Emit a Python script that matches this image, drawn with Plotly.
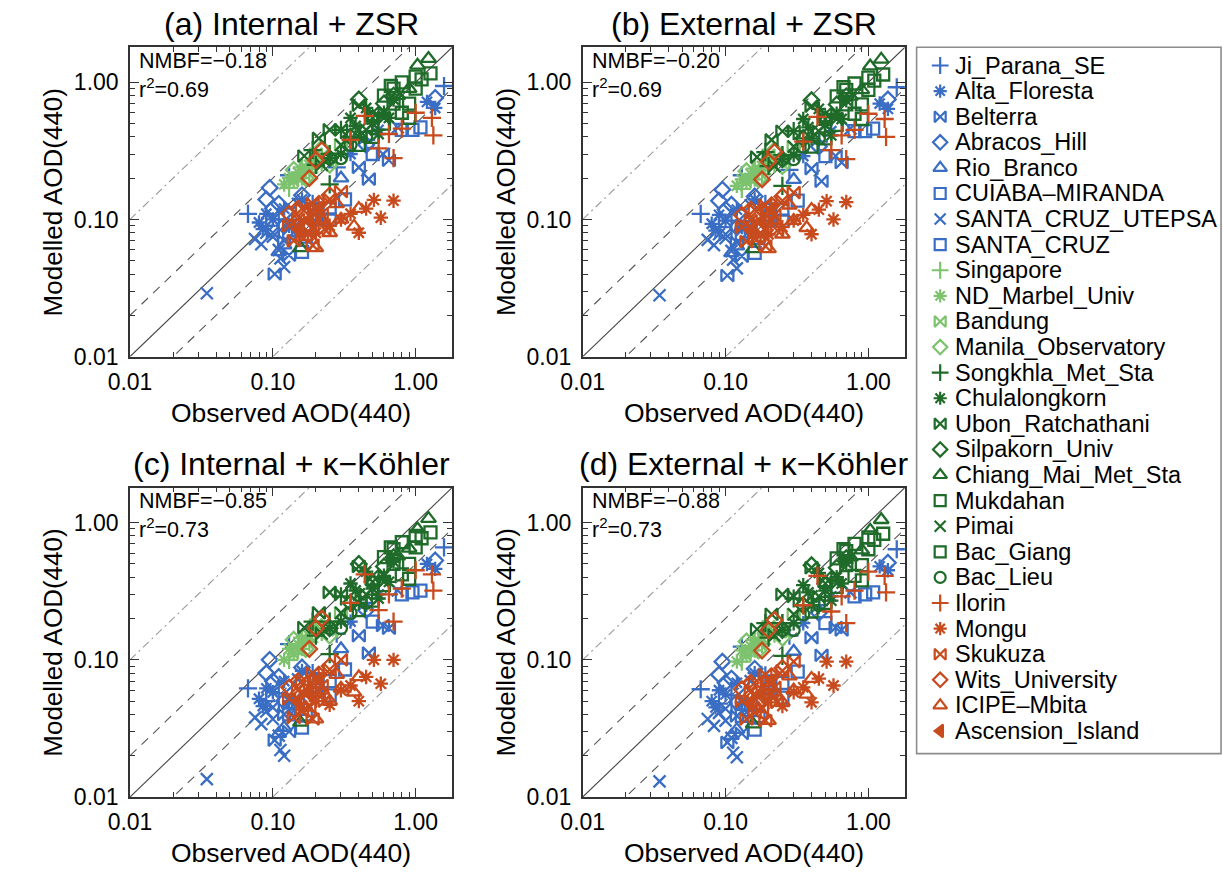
import plotly.graph_objects as go

W, H = 1223, 875

# ---------------- data ----------------
STATIONS = ["Ji_Parana_SE", "Alta_Floresta", "Belterra", "Abracos_Hill", "Rio_Branco",
            "CUIABA\u2013MIRANDA", "SANTA_CRUZ_UTEPSA", "SANTA_CRUZ", "Singapore",
            "ND_Marbel_Univ", "Bandung", "Manila_Observatory", "Songkhla_Met_Sta",
            "Chulalongkorn", "Ubon_Ratchathani", "Silpakorn_Univ", "Chiang_Mai_Met_Sta",
            "Mukdahan", "Pimai", "Bac_Giang", "Bac_Lieu", "Ilorin", "Mongu", "Skukuza",
            "Wits_University", "ICIPE\u2013Mbita", "Ascension_Island"]

OBS = [
    [0.067, 0.13, 1.58, 0.09, 0.11, 0.45, 0.28, 0.19],
    [0.10, 0.12, 0.085, 0.55, 1.37, 1.2, 0.35, 0.16, 0.09, 0.13, 0.08],
    [0.103, 0.47, 0.40, 0.59, 0.12, 0.10, 0.65, 0.13],
    [0.095, 0.10, 0.14, 1.37, 0.2, 0.12, 0.45, 0.09, 0.11, 0.16],
    [0.12, 0.15, 0.13, 0.3, 0.11],
    [0.2, 0.25, 0.8, 0.17, 0.32, 0.16],
    [0.0345, 0.075, 0.083, 0.113, 0.11, 0.75, 0.15, 0.10, 0.12, 0.09],
    [1.08, 0.95, 0.15, 0.25, 0.2, 0.13, 0.5],
    [0.15, 0.2, 0.25, 0.18, 0.13, 0.16, 0.22],
    [0.12, 0.15, 0.18, 0.16, 0.14, 0.2, 0.17, 0.13],
    [0.15, 0.2, 0.3, 0.17, 0.24],
    [0.14, 0.2, 0.25, 0.17, 0.22],
    [0.19, 0.25, 0.3, 0.25, 0.2, 0.35],
    [0.4, 0.5, 0.35, 0.6, 0.45, 0.3, 0.55, 0.7, 0.25, 0.38, 0.65],
    [0.166, 0.21, 0.25, 0.40, 0.5, 0.3, 0.6, 0.45],
    [0.4, 0.6, 0.5, 0.25, 0.7, 0.35],
    [1.23, 1.03, 0.9, 0.156, 0.75, 0.5],
    [0.8, 1.0, 0.7, 0.6, 0.9, 1.1, 0.67],
    [0.4, 0.3, 0.5, 0.22],
    [0.7, 1.0, 0.8, 0.5, 0.6, 0.9, 0.4, 1.27],
    [0.35, 0.3, 0.45],
    [0.44, 0.65, 0.8, 1.33, 1.3, 0.35, 1.0, 0.7, 0.55],
    [0.51, 0.70, 0.57, 0.3, 0.35, 0.25, 0.4, 0.2, 0.45],
    [0.15, 0.2, 0.18, 0.25, 0.13, 0.3, 0.22, 0.16, 0.14, 0.17, 0.19, 0.21, 0.16, 0.23, 0.19],
    [0.2, 0.22, 0.18, 0.15, 0.17, 0.25, 0.13, 0.21, 0.19],
    [0.2, 0.37, 0.3, 0.25, 0.4, 0.17, 0.22, 0.28],
    [0.18, 0.15, 0.21],
]

MOD_A = [
    [0.11, 0.21, 0.94, 0.09, 0.10, 0.38, 0.24, 0.13],
    [0.10, 0.12, 0.085, 0.45, 0.65, 0.72, 0.30, 0.14, 0.11, 0.09, 0.095],
    [0.04, 0.197, 0.24, 0.30, 0.07, 0.08, 0.27, 0.055],
    [0.17, 0.12, 0.10, 0.77, 0.11, 0.09, 0.35, 0.14, 0.13, 0.15],
    [0.065, 0.08, 0.09, 0.2, 0.058],
    [0.10, 0.12, 0.45, 0.075, 0.14, 0.058],
    [0.029, 0.072, 0.066, 0.052, 0.06, 0.47, 0.13, 0.075, 0.045, 0.08],
    [0.47, 0.45, 0.09, 0.10, 0.12, 0.08, 0.3],
    [0.20, 0.25, 0.30, 0.22, 0.17, 0.24, 0.26],
    [0.18, 0.22, 0.25, 0.20, 0.19, 0.28, 0.23, 0.20],
    [0.2, 0.3, 0.35, 0.24, 0.27],
    [0.23, 0.28, 0.25, 0.2, 0.33],
    [0.32, 0.3, 0.45, 0.18, 0.25, 0.4],
    [0.4, 0.5, 0.55, 0.6, 0.65, 0.3, 0.42, 0.75, 0.28, 0.48, 0.55],
    [0.29, 0.39, 0.45, 0.68, 0.6, 0.45, 0.55, 0.45],
    [0.75, 0.7, 0.55, 0.28, 0.8, 0.4],
    [1.49, 1.33, 0.9, 0.062, 0.8, 0.55],
    [1.0, 0.9, 0.7, 0.5, 0.7, 1.05, 0.94],
    [0.45, 0.35, 0.55, 0.25],
    [0.9, 1.1, 0.6, 0.4, 0.8, 0.55, 0.35, 1.16],
    [0.35, 0.28, 0.4],
    [0.57, 0.42, 0.46, 0.41, 0.55, 0.38, 0.6, 0.28, 0.33],
    [0.139, 0.137, 0.103, 0.10, 0.11, 0.09, 0.08, 0.08, 0.12],
    [0.10, 0.12, 0.08, 0.14, 0.09, 0.16, 0.11, 0.075, 0.07, 0.095, 0.13, 0.10, 0.12, 0.085, 0.065],
    [0.27, 0.32, 0.2, 0.12, 0.09, 0.15, 0.11, 0.13, 0.10],
    [0.062, 0.089, 0.10, 0.08, 0.12, 0.075, 0.10, 0.13],
    [0.10, 0.085, 0.12],
]

MOD_B = [
    [0.11, 0.21, 0.92, 0.088, 0.098, 0.37, 0.23, 0.13],
    [0.098, 0.118, 0.083, 0.44, 0.64, 0.70, 0.29, 0.14, 0.108, 0.088, 0.093],
    [0.039, 0.19, 0.235, 0.29, 0.068, 0.078, 0.26, 0.054],
    [0.165, 0.118, 0.098, 0.75, 0.108, 0.088, 0.34, 0.137, 0.128, 0.147],
    [0.064, 0.078, 0.088, 0.195, 0.057],
    [0.098, 0.118, 0.44, 0.073, 0.137, 0.057],
    [0.028, 0.071, 0.065, 0.051, 0.059, 0.46, 0.127, 0.073, 0.044, 0.078],
    [0.46, 0.44, 0.088, 0.098, 0.118, 0.078, 0.29],
    [0.196, 0.245, 0.295, 0.215, 0.167, 0.235, 0.255],
    [0.176, 0.215, 0.245, 0.196, 0.186, 0.275, 0.225, 0.196],
    [0.196, 0.295, 0.34, 0.235, 0.265],
    [0.225, 0.275, 0.245, 0.196, 0.32],
    [0.31, 0.295, 0.44, 0.176, 0.245, 0.39],
    [0.39, 0.49, 0.54, 0.59, 0.64, 0.295, 0.41, 0.74, 0.275, 0.47, 0.54],
    [0.285, 0.38, 0.44, 0.67, 0.59, 0.44, 0.54, 0.44],
    [0.74, 0.69, 0.54, 0.275, 0.79, 0.39],
    [1.47, 1.31, 0.88, 0.061, 0.79, 0.54],
    [0.98, 0.88, 0.69, 0.49, 0.69, 1.03, 0.92],
    [0.44, 0.34, 0.54, 0.245],
    [0.88, 1.08, 0.59, 0.39, 0.79, 0.54, 0.34, 1.14],
    [0.34, 0.275, 0.39],
    [0.56, 0.41, 0.45, 0.40, 0.54, 0.37, 0.59, 0.275, 0.32],
    [0.136, 0.134, 0.10, 0.098, 0.108, 0.088, 0.078, 0.078, 0.118],
    [0.098, 0.118, 0.078, 0.137, 0.088, 0.157, 0.108, 0.073, 0.069, 0.093, 0.127, 0.098, 0.118, 0.083, 0.064],
    [0.265, 0.31, 0.196, 0.118, 0.088, 0.147, 0.108, 0.127, 0.098],
    [0.061, 0.087, 0.098, 0.078, 0.118, 0.073, 0.098, 0.127],
    [0.098, 0.083, 0.118],
]

MOD_C = [
    [0.062, 0.13, 0.66, 0.05, 0.057, 0.26, 0.155, 0.08],
    [0.058, 0.07, 0.046, 0.30, 0.46, 0.50, 0.19, 0.083, 0.062, 0.05, 0.052],
    [0.026, 0.112, 0.15, 0.178, 0.04, 0.045, 0.17, 0.03],
    [0.10, 0.07, 0.058, 0.53, 0.065, 0.05, 0.23, 0.08, 0.075, 0.088],
    [0.032, 0.042, 0.047, 0.12, 0.029],
    [0.06, 0.07, 0.30, 0.04, 0.085, 0.032],
    [0.0135, 0.038, 0.034, 0.022, 0.028, 0.32, 0.072, 0.037, 0.02, 0.042],
    [0.32, 0.31, 0.048, 0.055, 0.07, 0.04, 0.19],
    [0.12, 0.155, 0.19, 0.135, 0.10, 0.145, 0.16],
    [0.10, 0.13, 0.15, 0.12, 0.11, 0.17, 0.14, 0.12],
    [0.12, 0.18, 0.22, 0.14, 0.165],
    [0.14, 0.17, 0.15, 0.12, 0.2],
    [0.19, 0.19, 0.29, 0.11, 0.15, 0.26],
    [0.26, 0.33, 0.36, 0.41, 0.44, 0.19, 0.28, 0.52, 0.17, 0.32, 0.37],
    [0.172, 0.22, 0.31, 0.48, 0.41, 0.30, 0.37, 0.30],
    [0.5, 0.48, 0.37, 0.17, 0.56, 0.26],
    [1.07, 0.9, 0.65, 0.035, 0.57, 0.37],
    [0.72, 0.66, 0.5, 0.35, 0.5, 0.77, 0.66],
    [0.3, 0.22, 0.37, 0.155],
    [0.64, 0.8, 0.42, 0.27, 0.56, 0.39, 0.23, 0.85],
    [0.22, 0.17, 0.26],
    [0.42, 0.30, 0.33, 0.32, 0.42, 0.26, 0.45, 0.19, 0.23],
    [0.10, 0.10, 0.067, 0.06, 0.065, 0.047, 0.05, 0.05, 0.075],
    [0.06, 0.072, 0.045, 0.085, 0.052, 0.10, 0.065, 0.042, 0.038, 0.055, 0.08, 0.058, 0.07, 0.05, 0.037],
    [0.17, 0.2, 0.12, 0.07, 0.05, 0.09, 0.063, 0.078, 0.06],
    [0.037, 0.058, 0.062, 0.05, 0.075, 0.045, 0.06, 0.078],
    [0.06, 0.05, 0.072],
]

MOD_D = [
    [0.061, 0.125, 0.64, 0.048, 0.055, 0.25, 0.15, 0.077],
    [0.056, 0.068, 0.045, 0.29, 0.45, 0.48, 0.185, 0.08, 0.06, 0.049, 0.05],
    [0.025, 0.108, 0.145, 0.172, 0.039, 0.044, 0.165, 0.029],
    [0.097, 0.068, 0.056, 0.51, 0.063, 0.049, 0.22, 0.078, 0.073, 0.086],
    [0.031, 0.041, 0.046, 0.115, 0.028],
    [0.058, 0.068, 0.29, 0.039, 0.082, 0.031],
    [0.013, 0.037, 0.033, 0.021, 0.027, 0.31, 0.07, 0.036, 0.0195, 0.041],
    [0.31, 0.30, 0.047, 0.053, 0.068, 0.039, 0.185],
    [0.117, 0.15, 0.185, 0.13, 0.097, 0.14, 0.155],
    [0.097, 0.126, 0.145, 0.117, 0.107, 0.165, 0.136, 0.117],
    [0.117, 0.175, 0.215, 0.136, 0.16],
    [0.136, 0.165, 0.145, 0.117, 0.195],
    [0.185, 0.185, 0.28, 0.107, 0.145, 0.25],
    [0.25, 0.32, 0.35, 0.40, 0.43, 0.185, 0.27, 0.51, 0.165, 0.31, 0.36],
    [0.167, 0.215, 0.30, 0.47, 0.40, 0.29, 0.36, 0.29],
    [0.49, 0.47, 0.36, 0.165, 0.55, 0.25],
    [1.05, 0.88, 0.63, 0.034, 0.56, 0.36],
    [0.70, 0.64, 0.49, 0.34, 0.49, 0.75, 0.64],
    [0.29, 0.215, 0.36, 0.15],
    [0.62, 0.78, 0.41, 0.26, 0.55, 0.38, 0.225, 0.83],
    [0.215, 0.165, 0.25],
    [0.41, 0.29, 0.32, 0.31, 0.41, 0.25, 0.44, 0.185, 0.225],
    [0.097, 0.097, 0.065, 0.058, 0.063, 0.046, 0.049, 0.049, 0.073],
    [0.058, 0.07, 0.044, 0.083, 0.05, 0.097, 0.063, 0.041, 0.037, 0.053, 0.078, 0.056, 0.068, 0.049, 0.036],
    [0.165, 0.195, 0.117, 0.068, 0.049, 0.087, 0.061, 0.076, 0.058],
    [0.036, 0.056, 0.06, 0.049, 0.073, 0.044, 0.058, 0.076],
    [0.058, 0.049, 0.07],
]

MODELLED = [MOD_A, MOD_B, MOD_C, MOD_D]
PANEL_TITLES = ["(a) Internal + ZSR", "(b) External + ZSR",
                "(c) Internal + \u03ba\u2212K\u00f6hler", "(d) External + \u03ba\u2212K\u00f6hler"]
NMBF = ["\u22120.18", "\u22120.20", "\u22120.85", "\u22120.88"]
R2 = ["0.69", "0.69", "0.73", "0.73"]
TICK_VALS = [0.01, 0.1, 1.0]
TICK_TEXT = ["0.01", "0.10", "1.00"]
MINOR_VALS = [0.02, 0.03, 0.04, 0.05, 0.06, 0.07, 0.08, 0.09,
              0.2, 0.3, 0.4, 0.5, 0.6, 0.7, 0.8, 0.9]
GUIDE_FACTORS = [10, 0.1, 2, 0.5, 1]
AXIS_MIN, AXIS_MAX = 0.01, 1.8

# ---------------- styles ----------------
GROUP = [0, 0, 0, 0, 0, 0, 0, 0, 1, 1, 1, 1, 2, 2, 2, 2, 2, 2, 2, 2, 2, 3, 3, 3, 3, 3, 3]
SHAPE = ["plus", "star", "bowtie", "diamond", "tri", "square", "x", "square",
         "plus", "star", "bowtie", "diamond",
         "plus", "star", "bowtie", "diamond", "tri", "square", "x", "square", "circle",
         "plus", "star", "bowtie", "diamond", "tri", "left"]
COLORS = ["#3a6ec4", "#7dc36e", "#1f6b2a", "#c84b1e"]
SYMBOLS = {"plus": ("cross-thin-open", 13), "star": ("asterisk-open", 12),
           "bowtie": ("bowtie-open", 12), "diamond": ("diamond-open", 12),
           "tri": ("triangle-up-open", 13), "square": ("square-open", 12),
           "x": ("x-thin-open", 12), "circle": ("circle-open", 12),
           "left": ("triangle-left", 12)}
LEGEND_SIZE = {"plus": 12, "star": 11, "bowtie": 11, "diamond": 11, "tri": 12,
               "square": 11, "x": 11, "circle": 11, "left": 11}
GUIDE_STYLE = {10: ("#9a9a9a", "8px,4px,2px,4px"), 0.1: ("#9a9a9a", "8px,4px,2px,4px"),
               2: ("#555555", "9px,7px"), 0.5: ("#555555", "9px,7px"), 1: ("#444444", "solid")}

PANEL_BOX = [(110, 438, 48, 362), (571, 899, 48, 362),
             (110, 438, 495, 809), (571, 899, 495, 809)]
FONT = "Liberation Sans, Arial, Helvetica, sans-serif"


def px(x):
    return x / W


def py(y):
    return 1 - y / H


fig = go.Figure()
layout = dict(width=W, height=H, margin=dict(l=0, r=0, t=0, b=0),
              paper_bgcolor="white", plot_bgcolor="rgba(0,0,0,0)",
              showlegend=False, font=dict(family=FONT, color="black"))
annotations = []

for p in range(4):
    x0, x1, y0, y1 = PANEL_BOX[p]
    k = "" if p == 0 else str(p + 1)
    ax = dict(type="log", range=[-2, 0.2553], tickmode="array", tickvals=TICK_VALS,
              ticktext=TICK_TEXT, ticks="inside", ticklen=9, tickwidth=1.3,
              tickcolor="#333", showline=True, linecolor="#333", linewidth=1.6,
              mirror="ticks", showgrid=False, zeroline=False,
              minor=dict(tickvals=MINOR_VALS, ticks="inside", ticklen=5,
                         tickwidth=1.1, tickcolor="#333", showgrid=False),
              tickfont=dict(size=23, family=FONT, color="black"), fixedrange=True)
    layout["xaxis" + k] = dict(ax, domain=[px(x0), px(x1)], anchor="y" + k,
                               ticklabelstandoff=4)
    layout["yaxis" + k] = dict(ax, domain=[py(y1), py(y0)], anchor="x" + k,
                               ticklabelstandoff=5)

    for f in GUIDE_FACTORS:
        col, dash = GUIDE_STYLE[f]
        fig.add_trace(go.Scatter(x=[AXIS_MIN, AXIS_MAX], y=[AXIS_MIN * f, AXIS_MAX * f],
                                 mode="lines", line=dict(color=col, width=1.1, dash=dash),
                                 xaxis="x" + k, yaxis="y" + k, hoverinfo="skip"))

    for s, name in enumerate(STATIONS):
        sym, size = SYMBOLS[SHAPE[s]]
        col = COLORS[GROUP[s]]
        fig.add_trace(go.Scatter(
            x=OBS[s], y=MODELLED[p][s], mode="markers", name=name,
            marker=dict(symbol=sym, size=size, color=col, line=dict(width=2.3, color=col)),
            xaxis="x" + k, yaxis="y" + k))

    cx = (x0 + x1) / 2
    annotations.append(dict(text=PANEL_TITLES[p], x=px(cx), y=py(y0 - 24),
                            xref="paper", yref="paper", showarrow=False,
                            xanchor="center", yanchor="middle", font=dict(size=32)))
    annotations.append(dict(text="NMBF=" + NMBF[p], x=px(x0 + 7), y=py(y0 + 14),
                            xref="paper", yref="paper", showarrow=False,
                            xanchor="left", yanchor="middle", font=dict(size=21.5)))
    annotations.append(dict(text="r<sup>2</sup>=" + R2[p], x=px(x0 + 7), y=py(y0 + 41),
                            xref="paper", yref="paper", showarrow=False,
                            xanchor="left", yanchor="middle", font=dict(size=21.5)))
    annotations.append(dict(text="Observed AOD(440)", x=px(cx), y=py(y1 + 57),
                            xref="paper", yref="paper", showarrow=False,
                            xanchor="center", yanchor="middle", font=dict(size=26.5)))
    annotations.append(dict(text="Modelled AOD(440)", x=px(x0 - 78), y=py((y0 + y1) / 2),
                            xref="paper", yref="paper", showarrow=False, textangle=-90,
                            xanchor="center", yanchor="middle", font=dict(size=26)))

# ---------------- legend (drawn as its own panel) ----------------
LX0, LX1, LY0, LY1 = 911, 1221, 48, 765
ROW0, ROW_STEP = 66.5, 25.98
layout["xaxis5"] = dict(domain=[px(LX0), px(LX1)], range=[LX0, LX1], visible=False,
                        anchor="y5", fixedrange=True)
layout["yaxis5"] = dict(domain=[py(LY1), py(LY0)], range=[LY1, LY0], visible=False,
                        anchor="x5", fixedrange=True)
for s, name in enumerate(STATIONS):
    sym = SYMBOLS[SHAPE[s]][0]
    col = COLORS[GROUP[s]]
    ry = ROW0 + s * ROW_STEP
    fig.add_trace(go.Scatter(x=[935], y=[ry], mode="markers", name=name,
                             marker=dict(symbol=sym, size=LEGEND_SIZE[SHAPE[s]], color=col,
                                         line=dict(width=2.2, color=col)),
                             xaxis="x5", yaxis="y5", hoverinfo="skip"))
    annotations.append(dict(text=name, x=948, y=ry, xref="x5", yref="y5",
                            showarrow=False, xanchor="left", yanchor="middle",
                            font=dict(size=23.5)))

layout["shapes"] = [dict(type="rect", xref="paper", yref="paper",
                         x0=px(LX0), x1=px(LX1), y0=py(LY1), y1=py(LY0),
                         line=dict(color="#8c8c8c", width=1.6), fillcolor="rgba(0,0,0,0)")]
layout["annotations"] = annotations
fig.update_layout(**layout)
fig.write_html("out.html")
